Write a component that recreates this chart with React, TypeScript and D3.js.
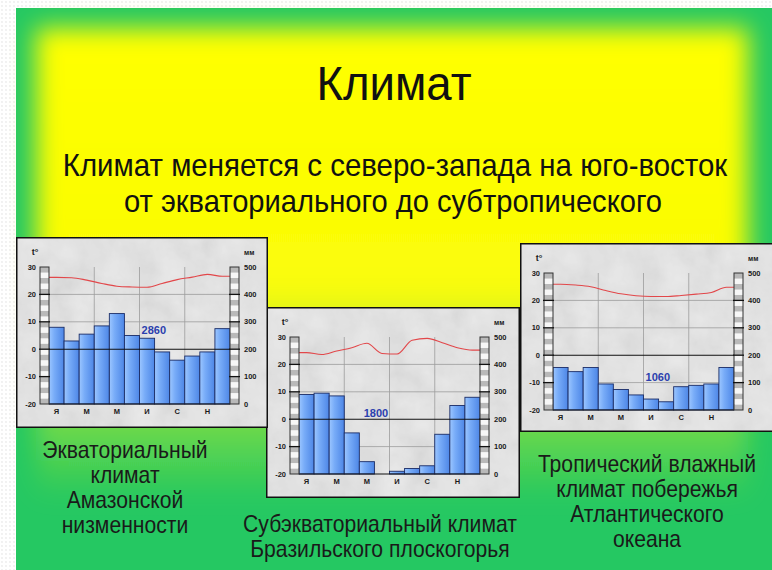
import React from 'react';
import * as d3 from 'd3';

// month initials (only every other one is printed under the bars)
const months = ['Я', 'Ф', 'М', 'А', 'М', 'И', 'И', 'А', 'С', 'О', 'Н', 'Д'];
const tempTicks = [30, 20, 10, 0, -10, -20];
const precipTicks = [500, 400, 300, 200, 100, 0];

// Amazon lowland, equatorial
const amazonPrecip = [280, 230, 255, 285, 330, 250, 240, 190, 160, 175, 190, 275];
const amazonTemp = [26.2, 26.1, 25.2, 24.0, 23.0, 22.7, 22.6, 24.0, 25.4, 26.3, 27.3, 26.6];

// Brazilian highlands, subequatorial
const brazilPrecip = [290, 295, 285, 150, 45, 0, 10, 20, 30, 145, 250, 280];
const brazilTemp = [24.3, 23.6, 24.9, 26.1, 27.7, 24.0, 23.8, 28.8, 29.5, 27.9, 26.1, 25.2];

// Atlantic coast, tropical humid
const atlanticPrecip = [155, 140, 155, 95, 75, 55, 40, 30, 85, 90, 95, 155];
const atlanticTemp = [25.9, 25.6, 25.0, 23.6, 22.4, 21.7, 21.4, 21.4, 21.8, 22.3, 22.9, 24.8];

const slideFont = '"Liberation Sans Narrow", "Arial Narrow", "Liberation Sans", Arial, sans-serif';
const chartFont = '"Liberation Sans", Arial, sans-serif';

function Climatogram({ x, y, w, h, precip, temp, total, totalAt }) {
  const left = 33, right = 214, top = 30, bottom = 167, barW = 9;
  const xb = d3.scaleBand().domain(d3.range(12)).range([left, right]);
  const xm = d3.scaleLinear().domain([0, 12]).range([left, right]);
  const yt = d3.scaleLinear().domain([-20, 30]).range([bottom, top]);
  const yp = d3.scaleLinear().domain([0, 500]).range([bottom, top]);

  const pts = [[0, temp[0]], ...temp.map((t, i) => [i + 0.5, t]), [12, temp[11]]];
  const line = d3.line().x(d => xm(d[0])).y(d => yt(d[1])).curve(d3.curveMonotoneX);
  const stripes = d3.range(-20, 30, 2);

  const axisBar = (bx) => (
    <g>
      {stripes.map((v, i) => (
        <rect key={v} x={bx} y={yt(v + 2)} width={barW} height={yt(v) - yt(v + 2)}
          fill={i % 2 === 0 ? '#b9b9b9' : '#f7f7f7'} />
      ))}
      <rect x={bx} y={top} width={barW} height={bottom - top} fill="none" stroke="#333" strokeWidth={1} />
      {tempTicks.slice(1, -1).map(t => (
        <line key={t} x1={bx - 1} x2={bx + barW + 1} y1={yt(t)} y2={yt(t)} stroke="#111" strokeWidth={1.3} />
      ))}
    </g>
  );

  return (
    <g transform={`translate(${x},${y})`}>
      <rect width={w} height={h} fill="#ececec" />
      <rect width={w} height={h} fill="#fff" filter="url(#marble)" />
      <rect x={0.75} y={0.75} width={w - 1.5} height={h - 1.5} fill="none" stroke="#111" strokeWidth={1.5} />

      {/* grid */}
      {[20, 10, -10].map(t => (
        <line key={t} x1={left} x2={right} y1={yt(t)} y2={yt(t)} stroke="#9c9c9c" strokeWidth={0.8} />
      ))}
      {[3, 6, 9].map(m => (
        <line key={m} x1={xm(m)} x2={xm(m)} y1={top} y2={bottom} stroke="#9c9c9c" strokeWidth={0.8} />
      ))}

      {/* precipitation bars */}
      {precip.map((p, i) => p > 0 && (
        <rect key={i} x={xb(i)} y={yp(p)} width={xb.bandwidth()} height={yp(0) - yp(p)}
          fill="url(#barfill)" stroke="#1a2c66" strokeWidth={0.9} />
      ))}

      <line x1={left} x2={right} y1={yt(0)} y2={yt(0)} stroke="#111" strokeWidth={1.1} />
      <line x1={left} x2={right} y1={yt(-20)} y2={yt(-20)} stroke="#111" strokeWidth={1.1} />

      {/* temperature */}
      <path d={line(pts)} fill="none" stroke="#e2474a" strokeWidth={1.1} />

      {axisBar(left - barW)}
      {axisBar(right)}

      <g fontFamily={chartFont} fontWeight="bold" fontSize={7.5} fill="#1a1a1a">
        {tempTicks.map(t => (
          <text key={t} x={left - barW - 4} y={yt(t)} dy="0.35em" textAnchor="end">{t}</text>
        ))}
        {precipTicks.map(p => (
          <text key={p} x={right + barW + 5} y={yp(p)} dy="0.35em">{p}</text>
        ))}
        <text x={19} y={18} textAnchor="middle" fontSize={9}>t°</text>
        <text x={right + barW + 5} y={18} fontSize={7}>мм</text>
        {months.map((m, i) => i % 2 === 0 && (
          <text key={i} x={xb(i) + xb.bandwidth() / 2} y={bottom + 10} textAnchor="middle">{m}</text>
        ))}
      </g>

      <text x={xm(totalAt[0])} y={yt(totalAt[1])} dy="0.35em" textAnchor="middle"
        fontFamily={chartFont} fontWeight="bold" fontSize={11} fill="#2b3fae">{total}</text>
    </g>
  );
}

const captions = [
  { cx: 125, y0: 458, lines: ['Экваториальный', 'климат', 'Амазонской', 'низменности'] },
  { cx: 380, y0: 532, lines: ['Субэкваториальный климат', 'Бразильского плоскогорья'] },
  { cx: 647, y0: 472, lines: ['Тропический влажный', 'климат побережья', 'Атлантического', 'океана'] },
];

// narrow-looking text: the glyphs are squeezed horizontally
const Narrow = ({ x, y, size, sx = 0.92, children }) => (
  <text transform={`translate(${x},${y}) scale(${sx},1)`} fontSize={size} textAnchor="middle">{children}</text>
);

export default function App() {
  return (
    <svg width={772} height={570} style={{ position: 'absolute', left: 0, top: 0 }}>
      <defs>
        <pattern id="dots" width="4" height="4" patternUnits="userSpaceOnUse">
          <rect width="4" height="4" fill="#fff" />
          <circle cx="2" cy="2" r="0.9" fill="#ececec" />
        </pattern>
        <linearGradient id="yel" gradientUnits="userSpaceOnUse" x1="0" y1="28" x2="0" y2="500">
          <stop offset="0" stopColor="#ffff00" stopOpacity="1" />
          <stop offset="0.55" stopColor="#fafc08" stopOpacity="1" />
          <stop offset="1" stopColor="#eef520" stopOpacity="0" />
        </linearGradient>
        <filter id="soft" x="-10%" y="-10%" width="120%" height="120%">
          <feGaussianBlur stdDeviation="12" />
        </filter>
        <linearGradient id="barfill" x1="0" y1="0" x2="1" y2="0">
          <stop offset="0" stopColor="#9cc6ff" />
          <stop offset="0.35" stopColor="#78acf8" />
          <stop offset="1" stopColor="#4d86e6" />
        </linearGradient>
        <filter id="marble" x="0" y="0" width="100%" height="100%">
          <feTurbulence type="fractalNoise" baseFrequency="0.035" numOctaves="4" seed="5" />
          <feColorMatrix type="matrix"
            values="0.33 0.33 0.33 0 0  0.33 0.33 0.33 0 0  0.33 0.33 0.33 0 0  0 0 0 0 0.22" />
          <feComposite in2="SourceGraphic" operator="in" />
        </filter>
      </defs>

      <rect width={772} height={570} fill="url(#dots)" />
      <rect x={16} y={8} width={756} height={562} fill="#25c862" />
      <rect x={36} y={28} width={712} height={472} fill="url(#yel)" filter="url(#soft)" />

      <g fontFamily={slideFont} fill="#111">
        <Narrow x={394} y={100} size={48} sx={0.95}>Климат</Narrow>
        <Narrow x={395} y={176} size={32} sx={0.92}>Климат меняется с северо-запада на юго-восток</Narrow>
        <Narrow x={393} y={212} size={32} sx={0.91}>от экваториального до субтропического</Narrow>
      </g>

      <Climatogram x={266} y={307} w={254} h={191} precip={brazilPrecip} temp={brazilTemp}
        total="1800" totalAt={[5.1, 2.2]} />
      <Climatogram x={16} y={237} w={252} h={191} precip={amazonPrecip} temp={amazonTemp}
        total="2860" totalAt={[6.95, 7]} />
      <Climatogram x={520} y={243} w={254} h={189} precip={atlanticPrecip} temp={atlanticTemp}
        total="1060" totalAt={[6.95, -8]} />

      <g fontFamily={slideFont} fill="#1a1a1a">
        {captions.map((c, k) => c.lines.map((t, i) => (
          <Narrow key={`${k}-${i}`} x={c.cx} y={c.y0 + i * 25} size={23} sx={0.92}>{t}</Narrow>
        )))}
      </g>
    </svg>
  );
}
